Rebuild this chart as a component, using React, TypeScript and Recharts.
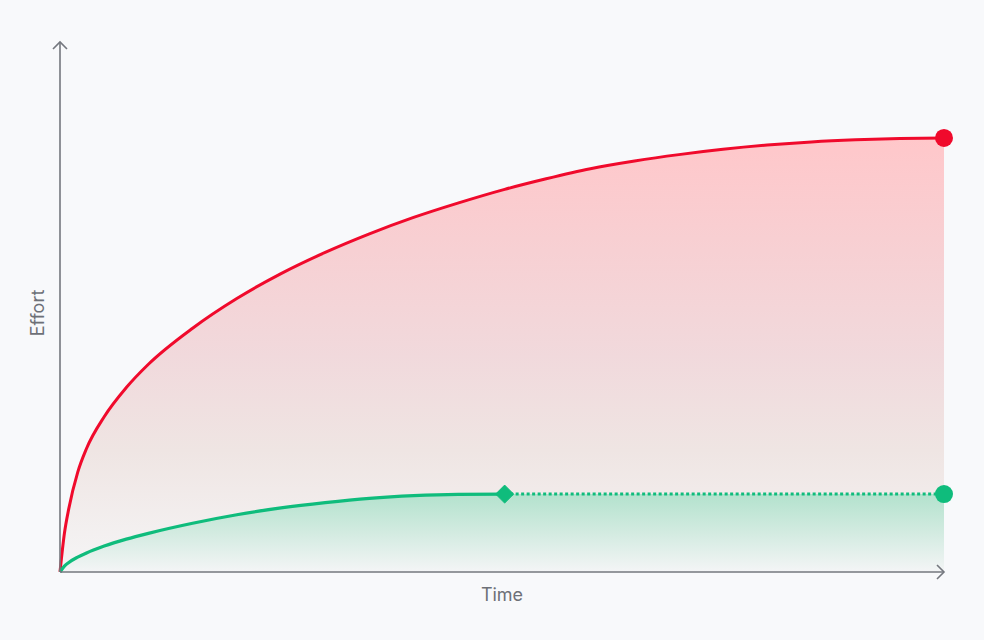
import { ComposedChart, Area, Line, XAxis, YAxis } from 'recharts';

// time axis (0..100) and effort values (0..100)
const TIME = [0, 0.5, 1, 2, 3, 5, 7.5, 10, 15, 20, 25, 30, 35, 40, 45, 50.3, 55, 60, 65, 70, 75, 80, 85, 90, 95, 100];
const RED_EFFORT = [
  0, 7.3, 12.0, 18.8, 23.3, 29.3, 34.8, 39.2, 46.0, 51.6, 56.3, 60.3, 63.8, 66.9, 69.6, 72.2,
  74.2, 76.1, 77.55, 78.75, 79.75, 80.55, 81.15, 81.55, 81.8, 81.9,
];
// green: measured part (solid) then projected part (dotted)
const GREEN_ACTUAL = [0, 1.1, 1.8, 2.8, 3.6, 4.9, 6.2, 7.3, 9.2, 10.8, 12.1, 13.1, 13.9, 14.4, 14.65, 14.7];
const GREEN_PLANNED = [14.7, 14.7, 14.7, 14.7, 14.7, 14.7, 14.7, 14.7, 14.7, 14.7, 14.7];

const RED = '#f00a2c';
const GREEN = '#0fbc7c';
const AXIS = '#74777e';
const TEXT = '#6d7077';
const BG = '#f8f9fb';

const PLAN_START = GREEN_ACTUAL.length - 1;

const data = TIME.map((time, i) => {
  const actual = i < GREEN_ACTUAL.length ? GREEN_ACTUAL[i] : null;
  const planned = i >= PLAN_START ? GREEN_PLANNED[i - PLAN_START] : null;
  return {
    time,
    red: RED_EFFORT[i],
    actual,
    planned,
    greenFill: actual ?? planned,
  };
});

const lastIndex = data.length - 1;

function RedEnd(props: any) {
  const { cx, cy, index } = props;
  if (index !== lastIndex || cx == null) return <g key={`r${index}`} />;
  return <circle key={`r${index}`} cx={cx} cy={cy} r={9} fill={RED} />;
}

function GreenDiamond(props: any) {
  const { cx, cy, index } = props;
  if (index !== PLAN_START || cx == null) return <g key={`d${index}`} />;
  const s = 9;
  return (
    <polygon
      key={`d${index}`}
      points={`${cx},${cy - s} ${cx + s},${cy} ${cx},${cy + s} ${cx - s},${cy}`}
      fill={GREEN}
      stroke={GREEN}
      strokeWidth={1}
      strokeLinejoin="round"
    />
  );
}

function GreenEnd(props: any) {
  const { cx, cy, index } = props;
  if (index !== lastIndex || cx == null) return <g key={`g${index}`} />;
  return <circle key={`g${index}`} cx={cx} cy={cy} r={9} fill={GREEN} />;
}

const labelStyle = {
  fontFamily: 'Inter, "Noto Sans", sans-serif',
  fontSize: 18,
  fill: TEXT,
};

export default function App() {
  return (
    <div style={{ position: 'absolute', left: 0, top: 0, width: 984, height: 640, background: BG }}>
      <ComposedChart width={984} height={640} data={data} margin={{ top: 42, right: 40, bottom: 0, left: 0 }}>
        <defs>
          <linearGradient id="redFill" x1="0" y1="0" x2="0" y2="1">
            <stop offset="0%" stopColor="#ffc7ca" />
            <stop offset="26%" stopColor="#f7d0d3" />
            <stop offset="50%" stopColor="#f1d9dc" />
            <stop offset="72%" stopColor="#efe5e3" />
            <stop offset="100%" stopColor="#f5f5f6" />
          </linearGradient>
          <linearGradient id="greenFill" x1="0" y1="0" x2="0" y2="1">
            <stop offset="0%" stopColor="#b3e2cd" />
            <stop offset="50%" stopColor="#d3ebe1" />
            <stop offset="100%" stopColor="#f4f5f6" />
          </linearGradient>
          <marker id="arrow" markerUnits="userSpaceOnUse" markerWidth={16} markerHeight={16}
            refX={8} refY={8} orient="auto-start-reverse" overflow="visible">
            <path d="M 1 1 L 8 8 L 1 15" fill="none" stroke={AXIS} strokeWidth={1.6} />
          </marker>
        </defs>
        <XAxis
          type="number"
          dataKey="time"
          domain={[0, 100]}
          height={68}
          tick={false}
          tickLine={false}
          axisLine={{ stroke: AXIS, strokeWidth: 1.6, markerEnd: 'url(#arrow)' } as any}
          label={{
            value: 'Time',
            content: (p: any) => (
              <text
                x={p.viewBox.x + p.viewBox.width / 2}
                y={p.viewBox.y + 22}
                textAnchor="middle"
                dominantBaseline="central"
                style={labelStyle}
              >
                Time
              </text>
            ),
          }}
        />
        <YAxis
          type="number"
          domain={[0, 100]}
          width={60}
          tick={false}
          tickLine={false}
          axisLine={{ stroke: AXIS, strokeWidth: 1.6, markerStart: 'url(#arrow)' } as any}
          label={{
            value: 'Effort',
            content: (p: any) => {
              const x = p.viewBox.x + p.viewBox.width - 23;
              const y = p.viewBox.y + p.viewBox.height / 2 + 6;
              return (
                <text
                  x={x}
                  y={y}
                  textAnchor="middle"
                  dominantBaseline="central"
                  transform={`rotate(-90, ${x}, ${y})`}
                  style={labelStyle}
                >
                  Effort
                </text>
              );
            },
          }}
        />
        <Area
          type="monotone"
          dataKey="red"
          stroke={RED}
          strokeWidth={3}
          fill="url(#redFill)"
          fillOpacity={1}
          dot={RedEnd}
          activeDot={false}
          isAnimationActive={false}
        />
        <Area
          type="monotone"
          dataKey="greenFill"
          stroke="none"
          fill="url(#greenFill)"
          fillOpacity={1}
          dot={false}
          activeDot={false}
          isAnimationActive={false}
        />
        <Line
          type="monotone"
          dataKey="planned"
          stroke={GREEN}
          strokeWidth={3}
          strokeDasharray="3 2.5"
          dot={GreenEnd}
          activeDot={false}
          isAnimationActive={false}
        />
        <Line
          type="monotone"
          dataKey="actual"
          stroke={GREEN}
          strokeWidth={3.25}
          dot={GreenDiamond}
          activeDot={false}
          isAnimationActive={false}
        />
      </ComposedChart>
    </div>
  );
}
